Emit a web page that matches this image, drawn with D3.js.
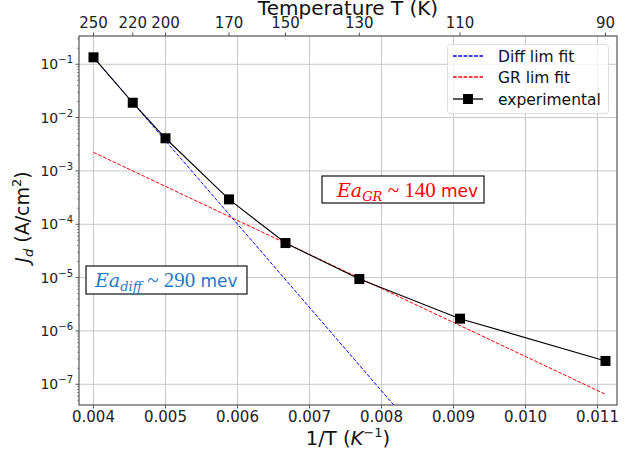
<!DOCTYPE html>
<html><head><meta charset="utf-8">
<script src="https://cdn.jsdelivr.net/npm/d3@7"></script>
<style>body{margin:0;background:#fff}svg{display:block}text{font-family:"DejaVu Sans",sans-serif}</style>
</head><body>
<script>
// ---- data ----
const temps = [250, 220, 200, 170, 150, 130, 110, 90];
const jdValues = [0.135, 0.019, 0.0041, 2.93e-4, 4.45e-5, 9.4e-6, 1.7e-6, 2.74e-7];
const diffFitX = [0.004, 0.0082];
const diffFitY = [0.135, 3.67e-8];
const grFitX = [0.004, 0.0111];
const grFitY = [2.23e-3, 6.6e-8];
const xTicks = [0.004, 0.005, 0.006, 0.007, 0.008, 0.009, 0.010, 0.011];
const yTickExps = [-1, -2, -3, -4, -5, -6, -7];
const topTickLabels = ["250", "220", "200", "170", "150", "130", "110", "90"];
const legendLabels = ["Diff lim fit", "GR lim fit", "experimental"];

const W = 629, H = 450;
const L = 79, R = 617, T = 36, B = 405;
const svg = d3.select("body").append("svg").attr("width", W).attr("height", H);

const x = d3.scaleLinear().domain([0.0037986, 0.011271]).range([L, R]);
const y = d3.scaleLog().domain([4.09e-8, 0.339]).range([B, T]);

const gridC = "#c8c8c8", spineC = "#555";

// grid
svg.append("g").selectAll("line").data(xTicks).join("line")
  .attr("x1", d => x(d)).attr("x2", d => x(d)).attr("y1", T).attr("y2", B)
  .attr("stroke", gridC).attr("stroke-width", 1);
svg.append("g").selectAll("line").data(yTickExps).join("line")
  .attr("y1", d => y(Math.pow(10, d))).attr("y2", d => y(Math.pow(10, d))).attr("x1", L).attr("x2", R)
  .attr("stroke", gridC).attr("stroke-width", 1);

// clip
svg.append("clipPath").attr("id", "clip").append("rect")
  .attr("x", L).attr("y", T).attr("width", R - L).attr("height", B - T);
const plot = svg.append("g").attr("clip-path", "url(#clip)");

const line = d3.line().x(d => x(d[0])).y(d => y(d[1]));
plot.append("path").datum(diffFitX.map((v, i) => [v, diffFitY[i]]))
  .attr("d", line).attr("fill", "none").attr("stroke", "#0000ff").attr("stroke-width", 1).attr("stroke-dasharray", "3.7,1.6");
plot.append("path").datum(grFitX.map((v, i) => [v, grFitY[i]]))
  .attr("d", line).attr("fill", "none").attr("stroke", "#ff0000").attr("stroke-width", 1).attr("stroke-dasharray", "3.7,1.6");
const exp = temps.map((t, i) => [1 / t, jdValues[i]]);
plot.append("path").datum(exp).attr("d", line).attr("fill", "none").attr("stroke", "#000").attr("stroke-width", 1.1);
svg.append("g").selectAll("rect").data(exp).join("rect")
  .attr("x", d => x(d[0]) - 5).attr("y", d => y(d[1]) - 5).attr("width", 10).attr("height", 10).attr("fill", "#000");

// spines
svg.append("rect").attr("x", L).attr("y", T).attr("width", R - L).attr("height", B - T)
  .attr("fill", "none").attr("stroke", spineC).attr("stroke-width", 1.2);

// bottom axis
const bx = svg.append("g");
xTicks.forEach(t => {
  bx.append("line").attr("x1", x(t)).attr("x2", x(t)).attr("y1", B).attr("y2", B + 3.5).attr("stroke", spineC);
  bx.append("text").attr("x", x(t)).attr("y", B + 17).attr("text-anchor", "middle")
    .attr("font-size", 15).attr("fill", "#222").text(d3.format(".3f")(t));
});
// top axis
temps.forEach((t, i) => {
  svg.append("line").attr("x1", x(1 / t)).attr("x2", x(1 / t)).attr("y1", T).attr("y2", T - 3.5).attr("stroke", spineC);
  svg.append("text").attr("x", x(1 / t)).attr("y", T - 8).attr("text-anchor", "middle")
    .attr("font-size", 15).attr("fill", "#222").text(topTickLabels[i]);
});
// y axis
yTickExps.forEach(e => {
  const yy = y(Math.pow(10, e));
  svg.append("line").attr("x1", L).attr("x2", L - 3.5).attr("y1", yy).attr("y2", yy).attr("stroke", spineC);
  const tx = svg.append("text").attr("x", L - 6).attr("y", yy + 5).attr("text-anchor", "end").attr("fill", "#222").attr("font-size", 14);
  tx.append("tspan").text("10");
  tx.append("tspan").attr("dy", -6).attr("font-size", 10).text("\u2212" + Math.abs(e));
});
// minor ticks
for (let e = -8; e <= -1; e++) {
  for (let m = 2; m <= 9; m++) {
    const v = m * Math.pow(10, e);
    if (v < y.domain()[0] || v > y.domain()[1]) continue;
    svg.append("line").attr("x1", L).attr("x2", L - 2).attr("y1", y(v)).attr("y2", y(v)).attr("stroke", spineC).attr("stroke-width", 0.6);
  }
}

// axis labels
const xl = svg.append("text").attr("x", 348).attr("y", 445).attr("text-anchor", "middle").attr("font-size", 19.5).attr("fill", "#111");
xl.append("tspan").text("1/T (");
xl.append("tspan").attr("font-style", "italic").text("K");
xl.append("tspan").attr("dy", -8).attr("font-size", 13).text("\u22121");
xl.append("tspan").attr("dy", 8).text(")");

svg.append("text").attr("x", 348).attr("y", 15).attr("text-anchor", "middle").attr("font-size", 20).attr("fill", "#111")
  .text("Temperature T (K)");

const yl = svg.append("text").attr("transform", "translate(29,217) rotate(-90)").attr("text-anchor", "middle")
  .attr("font-size", 19).attr("fill", "#111");
yl.append("tspan").attr("font-style", "italic").text("J");
yl.append("tspan").attr("font-style", "italic").attr("font-size", 13).attr("dy", 4).text("d");
yl.append("tspan").attr("dy", -4).text(" (A/cm");
yl.append("tspan").attr("dy", -8).attr("font-size", 13).text("2");
yl.append("tspan").attr("dy", 8).text(")");

// annotations
function annot(x0, y0, w, h, tx, ty, sub, num, color) {
  svg.append("rect").attr("x", x0).attr("y", y0).attr("width", w).attr("height", h)
    .attr("fill", "#fff").attr("stroke", "#111").attr("stroke-width", 1.2);
  const t = svg.append("text").attr("x", tx).attr("y", ty).attr("fill", color).attr("font-size", 19);
  t.append("tspan").attr("font-family", "DejaVu Serif").attr("font-style", "italic").text("Ea");
  t.append("tspan").attr("font-family", "DejaVu Serif").attr("font-style", "italic").attr("font-size", 13).attr("dy", 4).text(sub);
  t.append("tspan").attr("font-family", "Liberation Serif").attr("dy", -4).attr("font-size", 21).text(" ~ " + num + " ");
  t.append("tspan").attr("font-family", "DejaVu Sans").attr("font-size", 17).text("mev");
}
annot(322, 176, 162, 27, 337, 197, "GR", "140", "#ff0000");
annot(86, 266, 161, 28, 95, 287, "diff", "290", "#1f78c8");

// legend
const lg = svg.append("g");
lg.append("rect").attr("x", 447.5).attr("y", 44.5).attr("width", 161).attr("height", 69).attr("rx", 3)
  .attr("fill", "#fff").attr("fill-opacity", 0.8).attr("stroke", "#ddd");
const ly = [56, 77, 99];
const lcol = ["#0000ff", "#ff0000", "#000000"];
legendLabels.forEach((lab, i) => {
  lg.append("line").attr("x1", 453).attr("x2", 483).attr("y1", ly[i]).attr("y2", ly[i])
    .attr("stroke", lcol[i]).attr("stroke-width", 1.3).attr("stroke-dasharray", i < 2 ? "3.7,1.6" : "none");
  if (i === 2) lg.append("rect").attr("x", 463).attr("y", ly[i] - 5).attr("width", 10).attr("height", 10).attr("fill", "#000");
  lg.append("text").attr("x", 498).attr("y", ly[i] + 5.5).attr("font-size", 15.5).attr("fill", "#111").text(lab);
});
</script>
</body></html>
